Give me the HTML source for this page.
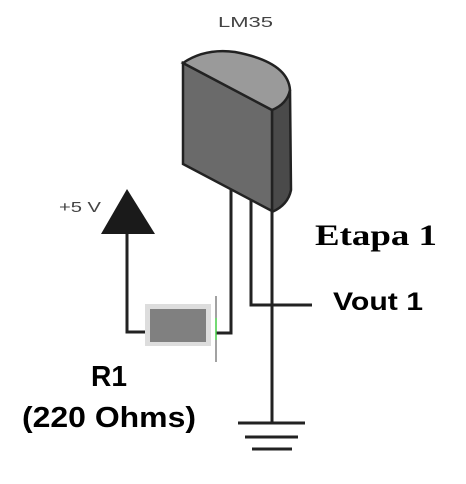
<!DOCTYPE html>
<html><head><style>
html,body{margin:0;padding:0;background:#fff;}
body{width:466px;height:484px;overflow:hidden;position:relative;}
</style></head><body>
<svg width="466" height="484" viewBox="0 0 466 484" xmlns="http://www.w3.org/2000/svg" style="position:absolute;left:0;top:0">
<text x="218" y="27" font-family="Liberation Sans, sans-serif" font-size="15" fill="#444" textLength="55" lengthAdjust="spacingAndGlyphs">LM35</text>
<text x="59" y="212" font-family="Liberation Sans, sans-serif" font-size="15" fill="#444" textLength="42" lengthAdjust="spacingAndGlyphs">+5 V</text>
<g stroke="#222" stroke-width="3" fill="none">
<polyline points="231,190 231,333 216,333"/>
<polyline points="251,195 251,305 312,305"/>
<line x1="272" y1="200" x2="272" y2="423"/>
<line x1="238" y1="423" x2="305" y2="423"/>
<line x1="245" y1="437" x2="298" y2="437"/>
<line x1="252" y1="449" x2="292" y2="449"/>
<polyline points="127,230 127,332 146,332"/>
</g>
<path d="M272,108 Q290,100 290,90 L291,190 Q288,205 272,212 Z" fill="#4a4a4a" stroke="#222" stroke-width="2.5"/>
<path d="M183,63 L272,110 L272,211 L183,164 Z" fill="#6a6a6a" stroke="#222" stroke-width="2.5"/>
<path d="M183,63 Q205,48 235,52 Q288,62 290,90 Q287,104 272,110 Z" fill="#9a9a9a" stroke="#222" stroke-width="2.5"/>
<polygon points="127,189 101,234 155,234" fill="#1a1a1a"/>
<rect x="145" y="304" width="66" height="42" fill="#ddd"/>
<rect x="150" y="309" width="56" height="33" fill="#808080"/>
<line x1="216" y1="296" x2="216" y2="362" stroke="#444" stroke-width="1"/>
<line x1="216" y1="318" x2="216" y2="340" stroke="#4c4" stroke-width="1.5"/>
<text x="315" y="245" font-family="Liberation Serif, serif" font-size="30" font-weight="bold" fill="#000" textLength="122" lengthAdjust="spacingAndGlyphs">Etapa 1</text>
<text x="333" y="310" font-family="Liberation Sans, sans-serif" font-size="25" font-weight="bold" fill="#000" textLength="90" lengthAdjust="spacingAndGlyphs">Vout 1</text>
<text x="91" y="386" font-family="Liberation Sans, sans-serif" font-size="29" font-weight="bold" fill="#000" textLength="36" lengthAdjust="spacingAndGlyphs">R1</text>
<text x="22" y="427" font-family="Liberation Sans, sans-serif" font-size="29" font-weight="bold" fill="#000" textLength="174" lengthAdjust="spacingAndGlyphs">(220 Ohms)</text>
</svg>
</body></html>
